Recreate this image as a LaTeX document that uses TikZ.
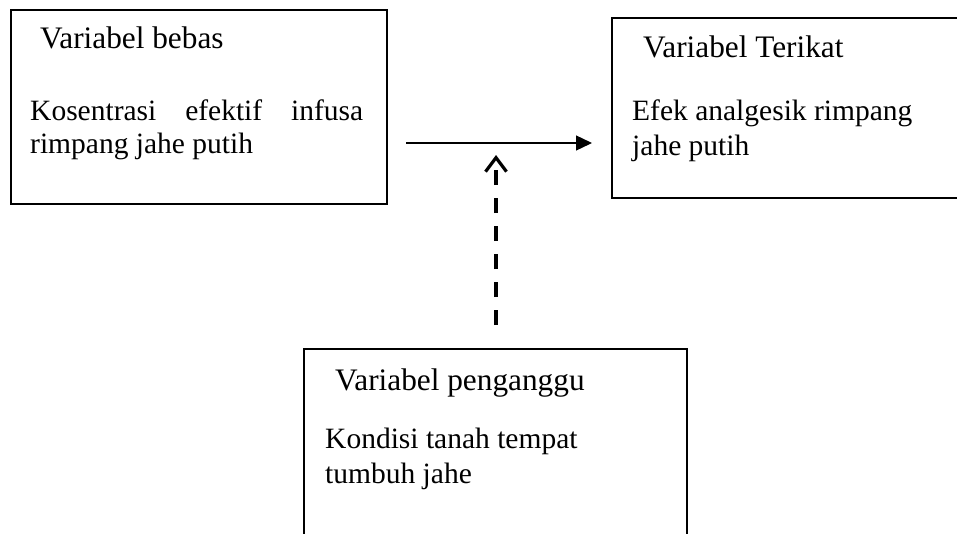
\documentclass[tikz,border=0pt]{standalone}
\usepackage{fontspec}
\setmainfont{Liberation Serif}
\usetikzlibrary{arrows.meta}
\tikzset{
  box/.style={draw=black, line width=2pt, fill=none, inner sep=0pt, anchor=north west},
  head/.style={anchor=base west, inner sep=0pt, font=\fontsize{31.3}{35}\selectfont},
  body/.style={anchor=base west, inner sep=0pt, font=\fontsize{29.5}{34}\selectfont},
  mainarrow/.style={line width=1.3pt, -{Triangle[length=16pt,width=15pt]}},
  dasharrow/.style={line width=3.5pt, dash pattern=on 15pt off 13pt, -{Straight Barb[length=14pt,width=21pt,line width=3.2pt]}}
}
\begin{document}
\begin{tikzpicture}[x=1pt,y=-1pt]
\useasboundingbox (0,0) rectangle (957,533);
\clip (0,0) rectangle (957,533);
% boxes
\node[box, minimum width=376pt, minimum height=194pt] (b1) at (10,9) {};
\node[box, minimum width=380pt, minimum height=180pt] (b2) at (611,17) {};
\node[box, minimum width=383pt, minimum height=200pt] (b3) at (303,348) {};
% texts
\node[head] (t1) at (40,48) {Variabel bebas};
\node[body] (t1a) at (30,120) {\hbox to 333pt{Kosentrasi\hfill efektif\hfill infusa}};
\node[body] (t1b) at (30,153) {rimpang jahe putih};
\node[head] (t2) at (643,57) {Variabel Terikat};
\node[body] (t2a) at (632,120) {Efek analgesik rimpang};
\node[body] (t2b) at (632,155) {jahe putih};
\node[head] (t3) at (335,390) {Variabel penganggu};
\node[body] (t3a) at (325,448) {Kondisi tanah tempat};
\node[body] (t3b) at (325,483) {tumbuh jahe};
% connectors
\coordinate (hs) at (406,143);
\coordinate (he) at (592,143);
\coordinate (vs) at (496,325);
\coordinate (ve) at (496,155);
\draw[mainarrow] (hs) -- (he);
\draw[dasharrow] (vs) -- (ve);
\end{tikzpicture}
\end{document}
